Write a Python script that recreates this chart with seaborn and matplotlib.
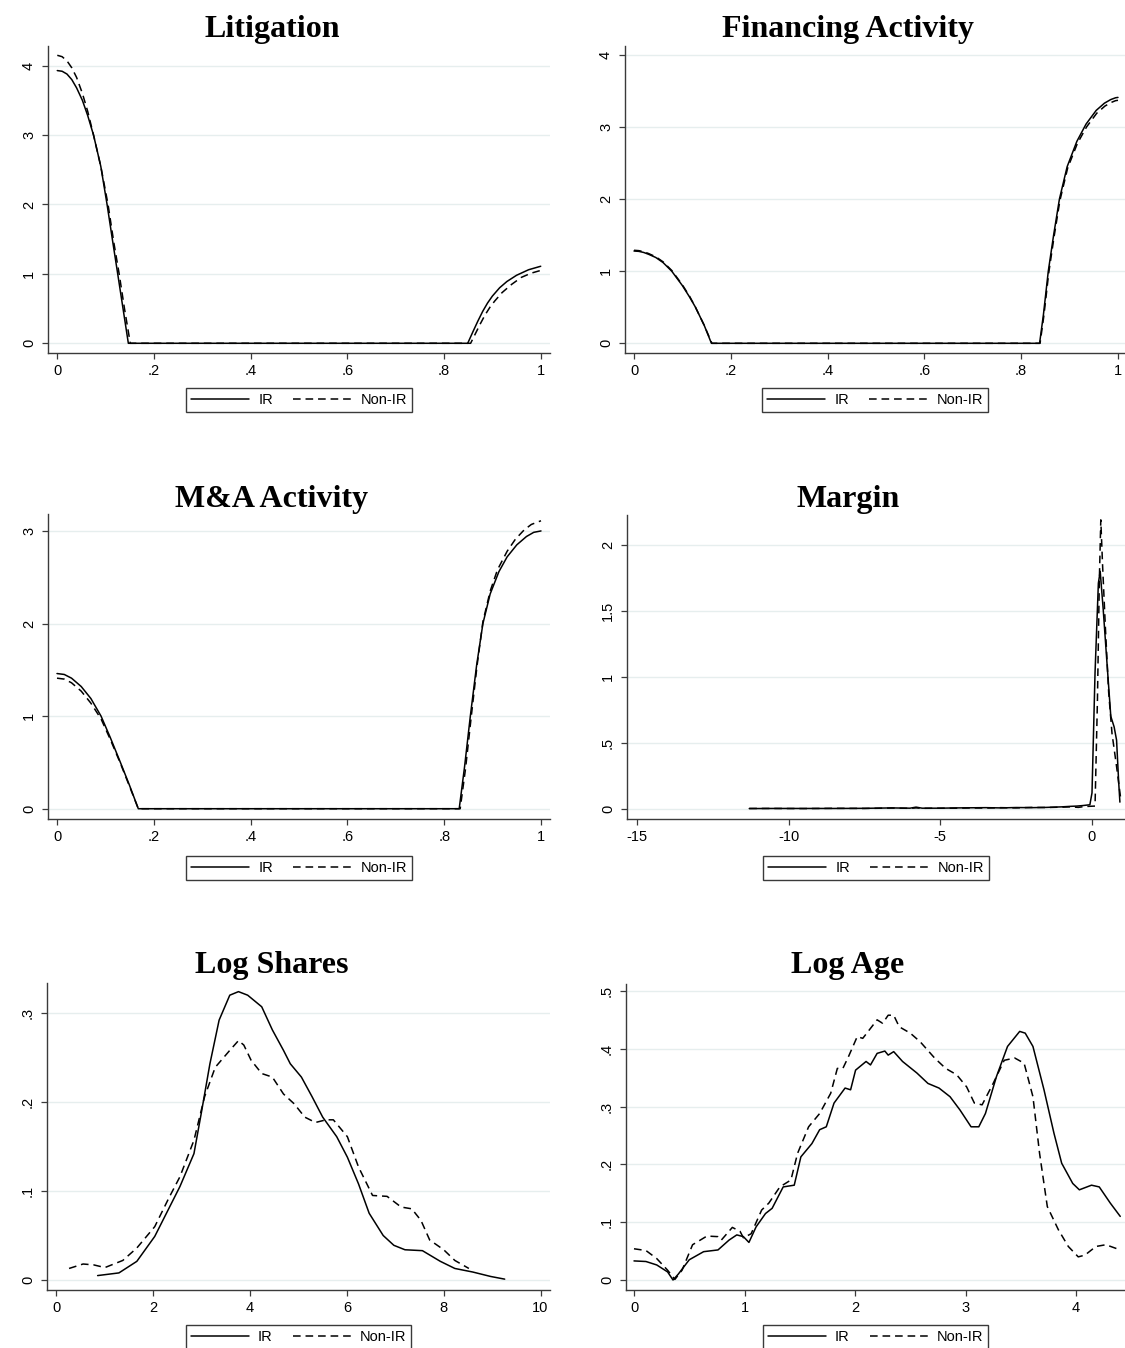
import matplotlib
matplotlib.use("Agg")
import matplotlib.pyplot as plt
import seaborn as sns
from matplotlib.lines import Line2D

sns.set_theme(style="white")
plt.rcParams['font.family'] = ['Liberation Sans', 'DejaVu Sans']
plt.rcParams['text.color'] = 'black'

# ---------------- data ----------------
titles = ["Litigation", "Financing Activity", "M&A Activity", "Margin", "Log Shares", "Log Age"]
series_labels = ["IR", "Non-IR"]

lit_ir_x = [0.0, 0.01, 0.02, 0.03, 0.04, 0.052, 0.063, 0.075, 0.09, 0.103, 0.115, 0.125, 0.136, 0.147,
            0.30, 0.50, 0.70, 0.849, 0.86, 0.87, 0.88, 0.89, 0.90, 0.915, 0.93, 0.95, 0.975, 1.0]
lit_ir_y = [3.93, 3.92, 3.88, 3.80, 3.68, 3.50, 3.28, 3.00, 2.55, 2.00, 1.45, 1.00, 0.50, 0.0,
            0.0, 0.0, 0.0, 0.0, 0.17, 0.32, 0.46, 0.58, 0.68, 0.80, 0.89, 0.98, 1.06, 1.11]
lit_non_x = [0.0, 0.01, 0.02, 0.03, 0.04, 0.052, 0.063, 0.075, 0.09, 0.105, 0.117, 0.128, 0.139, 0.151,
             0.30, 0.50, 0.70, 0.855, 0.865, 0.875, 0.885, 0.895, 0.905, 0.92, 0.94, 0.96, 0.98, 1.0]
lit_non_y = [4.15, 4.13, 4.07, 3.97, 3.83, 3.60, 3.34, 3.00, 2.55, 2.00, 1.45, 1.00, 0.50, 0.0,
             0.0, 0.0, 0.0, 0.0, 0.14, 0.28, 0.41, 0.52, 0.61, 0.73, 0.85, 0.95, 1.01, 1.05]

fin_ir_x = [0.0, 0.01, 0.02, 0.03, 0.045, 0.06, 0.078, 0.10, 0.115, 0.127, 0.145, 0.16, 0.40, 0.60, 0.838,
            0.846, 0.856, 0.867, 0.879, 0.895, 0.915, 0.934, 0.955, 0.972, 0.985, 0.995, 1.0]
fin_ir_y = [1.28, 1.275, 1.26, 1.235, 1.19, 1.12, 1.00, 0.80, 0.64, 0.50, 0.25, 0.0, 0.0, 0.0, 0.0,
            0.40, 1.00, 1.50, 2.00, 2.45, 2.80, 3.04, 3.23, 3.33, 3.38, 3.405, 3.41]
fin_non_x = [0.0, 0.01, 0.02, 0.03, 0.045, 0.06, 0.078, 0.10, 0.115, 0.127, 0.145, 0.161, 0.40, 0.60, 0.839,
             0.847, 0.857, 0.868, 0.880, 0.896, 0.916, 0.935, 0.956, 0.973, 0.986, 0.995, 1.0]
fin_non_y = [1.29, 1.285, 1.27, 1.245, 1.20, 1.13, 1.01, 0.81, 0.65, 0.50, 0.25, 0.0, 0.0, 0.0, 0.0,
             0.39, 0.98, 1.48, 1.98, 2.43, 2.77, 3.00, 3.19, 3.29, 3.34, 3.365, 3.37]

ma_ir_x = [0.0, 0.015, 0.03, 0.05, 0.07, 0.091, 0.11, 0.131, 0.15, 0.168, 0.40, 0.60, 0.831,
           0.842, 0.854, 0.867, 0.88, 0.895, 0.913, 0.93, 0.95, 0.97, 0.985, 1.0]
ma_ir_y = [1.46, 1.45, 1.41, 1.32, 1.19, 1.00, 0.77, 0.50, 0.25, 0.0, 0.0, 0.0, 0.0,
           0.45, 1.00, 1.55, 2.00, 2.32, 2.56, 2.72, 2.85, 2.94, 2.985, 3.00]
ma_non_x = [0.0, 0.015, 0.03, 0.05, 0.07, 0.091, 0.11, 0.131, 0.15, 0.168, 0.40, 0.60, 0.833,
            0.844, 0.856, 0.868, 0.88, 0.895, 0.91, 0.93, 0.947, 0.965, 0.98, 1.0]
ma_non_y = [1.41, 1.40, 1.36, 1.27, 1.14, 0.97, 0.75, 0.49, 0.24, 0.0, 0.0, 0.0, 0.0,
            0.43, 1.00, 1.55, 2.02, 2.35, 2.58, 2.78, 2.91, 3.01, 3.07, 3.11]

mar_ir_x = [-11.3, -10.5, -9.5, -8.5, -7.5, -6.6, -6.0, -5.8, -5.6, -5.0, -4.5, -4.0, -3.5, -3.0,
            -2.5, -2.0, -1.5, -1.0, -0.7, -0.5, -0.3, -0.07, 0.0, 0.1, 0.21, 0.27, 0.37, 0.48,
            0.62, 0.73, 0.81, 0.88, 0.92]
mar_ir_y = [0.001, 0.002, 0.002, 0.002, 0.003, 0.006, 0.004, 0.012, 0.004, 0.004, 0.006, 0.007, 0.008, 0.006,
            0.009, 0.008, 0.010, 0.014, 0.018, 0.020, 0.024, 0.030, 0.12, 1.03, 1.71, 1.80, 1.51, 1.15,
            0.70, 0.62, 0.52, 0.20, 0.05]
mar_non_x = [-11.3, -10.5, -9.5, -8.5, -7.5, -6.6, -6.0, -5.8, -5.6, -5.0, -4.5, -4.0, -3.5, -3.0,
             -2.5, -2.0, -1.5, -1.0, -0.7, -0.45, -0.3, -0.1, 0.1, 0.18, 0.24, 0.29, 0.35, 0.44,
             0.55, 0.66, 0.81, 0.95]
mar_non_y = [0.002, 0.002, 0.001, 0.003, 0.002, 0.005, 0.003, 0.006, 0.003, 0.004, 0.004, 0.006, 0.005, 0.008,
             0.006, 0.010, 0.009, 0.012, 0.014, 0.010, 0.015, 0.018, 0.02, 0.83, 1.71, 2.19, 1.84, 1.38,
             0.88, 0.57, 0.32, 0.07]

ls_ir_x = [0.85, 1.29, 1.66, 2.03, 2.55, 2.84, 2.99, 3.17, 3.36, 3.58, 3.76, 3.95, 4.24, 4.46, 4.69,
           4.83, 5.06, 5.28, 5.50, 5.79, 6.01, 6.24, 6.46, 6.75, 6.97, 7.20, 7.56, 7.93, 8.23, 8.60,
           8.97, 9.26]
ls_ir_y = [0.005, 0.008, 0.021, 0.049, 0.105, 0.142, 0.187, 0.243, 0.292, 0.320, 0.324, 0.320, 0.307,
           0.281, 0.258, 0.243, 0.228, 0.206, 0.183, 0.161, 0.138, 0.108, 0.075, 0.050, 0.039, 0.034,
           0.033, 0.021, 0.013, 0.009, 0.004, 0.001]
ls_non_x = [0.26, 0.55, 0.77, 1.00, 1.37, 1.66, 2.03, 2.32, 2.55, 2.84, 3.06, 3.28, 3.58, 3.76, 3.87,
            4.02, 4.24, 4.46, 4.69, 4.91, 5.13, 5.35, 5.57, 5.72, 6.01, 6.24, 6.53, 6.83, 7.12, 7.34,
            7.53, 7.71, 8.00, 8.23, 8.52]
ls_non_y = [0.013, 0.018, 0.017, 0.014, 0.022, 0.036, 0.060, 0.092, 0.116, 0.157, 0.206, 0.239, 0.258,
            0.269, 0.264, 0.247, 0.232, 0.228, 0.209, 0.198, 0.183, 0.177, 0.180, 0.180, 0.161, 0.127,
            0.095, 0.094, 0.082, 0.080, 0.067, 0.045, 0.034, 0.022, 0.013]

la_ir_x = [0.0, 0.108, 0.206, 0.304, 0.353, 0.40, 0.50, 0.63, 0.76, 0.86, 0.93, 0.99, 1.04, 1.105,
           1.19, 1.25, 1.35, 1.45, 1.51, 1.61, 1.68, 1.74, 1.81, 1.91, 1.96, 2.005, 2.10, 2.14, 2.20,
           2.27, 2.30, 2.35, 2.43, 2.56, 2.66, 2.76, 2.86, 2.95, 3.05, 3.12, 3.18, 3.28, 3.38, 3.49,
           3.54, 3.61, 3.71, 3.80, 3.87, 3.97, 4.03, 4.14, 4.21, 4.31, 4.40]
la_ir_y = [0.033, 0.032, 0.026, 0.014, 0.0, 0.010, 0.035, 0.049, 0.052, 0.069, 0.078, 0.075, 0.065, 0.092,
           0.115, 0.124, 0.161, 0.164, 0.213, 0.236, 0.260, 0.265, 0.306, 0.332, 0.329, 0.363, 0.378,
           0.372, 0.392, 0.396, 0.389, 0.395, 0.378, 0.358, 0.340, 0.332, 0.317, 0.294, 0.265, 0.265,
           0.288, 0.352, 0.404, 0.430, 0.427, 0.404, 0.329, 0.254, 0.202, 0.167, 0.156, 0.164, 0.161,
           0.133, 0.110]
la_non_x = [0.0, 0.108, 0.206, 0.304, 0.37, 0.435, 0.53, 0.66, 0.76, 0.79, 0.89, 0.96, 0.99, 1.06,
            1.155, 1.22, 1.32, 1.42, 1.48, 1.58, 1.68, 1.78, 1.84, 1.89, 1.94, 2.02, 2.07, 2.20, 2.25,
            2.30, 2.35, 2.40, 2.50, 2.59, 2.72, 2.82, 2.92, 3.01, 3.08, 3.15, 3.25, 3.35, 3.445, 3.53,
            3.61, 3.67, 3.74, 3.84, 3.93, 4.02, 4.08, 4.18, 4.27, 4.40]
la_non_y = [0.054, 0.051, 0.037, 0.017, 0.001, 0.017, 0.061, 0.076, 0.075, 0.069, 0.091, 0.084, 0.073,
            0.080, 0.121, 0.133, 0.161, 0.173, 0.219, 0.265, 0.288, 0.323, 0.366, 0.366, 0.386, 0.421,
            0.418, 0.450, 0.444, 0.458, 0.458, 0.438, 0.427, 0.412, 0.384, 0.366, 0.355, 0.334, 0.306,
            0.303, 0.340, 0.380, 0.384, 0.375, 0.317, 0.219, 0.127, 0.087, 0.058, 0.040, 0.043, 0.058,
            0.061, 0.052]

unit_ticks = [0, 0.2, 0.4, 0.6, 0.8, 1]
unit_ticklabels = ["0", ".2", ".4", ".6", ".8", "1"]
lit_yticks = [0, 1, 2, 3, 4]
lit_yticklabels = ["0", "1", "2", "3", "4"]
fin_yticks = [0, 1, 2, 3, 4]
fin_yticklabels = ["0", "1", "2", "3", "4"]
ma_yticks = [0, 1, 2, 3]
ma_yticklabels = ["0", "1", "2", "3"]
mar_xticks = [-15, -10, -5, 0]
mar_xticklabels = ["-15", "-10", "-5", "0"]
mar_yticks = [0, 0.5, 1, 1.5, 2]
mar_yticklabels = ["0", ".5", "1", "1.5", "2"]
ls_xticks = [0, 2, 4, 6, 8, 10]
ls_xticklabels = ["0", "2", "4", "6", "8", "10"]
ls_yticks = [0, 0.1, 0.2, 0.3]
ls_yticklabels = ["0", ".1", ".2", ".3"]
la_xticks = [0, 1, 2, 3, 4]
la_xticklabels = ["0", "1", "2", "3", "4"]
la_yticks = [0, 0.1, 0.2, 0.3, 0.4, 0.5]
la_yticklabels = ["0", ".1", ".2", ".3", ".4", ".5"]

# ---------------- layout (pixels) ----------------
W, H = 1125, 1348
fig = plt.figure(figsize=(W / 100, H / 100), dpi=100)

panels = [
    dict(title=titles[0], ir=(lit_ir_x, lit_ir_y), non=(lit_non_x, lit_non_y),
         box=(48, 550, 46, 353), xlim=(-0.0192, 1.0192), ylim=(-0.140, 4.284),
         xt=(unit_ticks, unit_ticklabels), yt=(lit_yticks, lit_yticklabels), tcx=272, tby=37, leg=388),
    dict(title=titles[1], ir=(fin_ir_x, fin_ir_y), non=(fin_non_x, fin_non_y),
         box=(625, 1125, 46, 353), xlim=(-0.0186, 1.0145), ylim=(-0.1345, 4.123),
         xt=(unit_ticks, unit_ticklabels), yt=(fin_yticks, fin_yticklabels), tcx=848, tby=37, leg=388),
    dict(title=titles[2], ir=(ma_ir_x, ma_ir_y), non=(ma_non_x, ma_non_y),
         box=(48, 550, 514, 819), xlim=(-0.0186, 1.0186), ylim=(-0.111, 3.183),
         xt=(unit_ticks, unit_ticklabels), yt=(ma_yticks, ma_yticklabels), tcx=272, tby=507, leg=856),
    dict(title=titles[3], ir=(mar_ir_x, mar_ir_y), non=(mar_non_x, mar_non_y),
         box=(627, 1125, 515, 819), xlim=(-15.33, 1.088), ylim=(-0.078, 2.227),
         xt=(mar_xticks, mar_xticklabels), yt=(mar_yticks, mar_yticklabels), tcx=848, tby=507, leg=856),
    dict(title=titles[4], ir=(ls_ir_x, ls_ir_y), non=(ls_non_x, ls_non_y),
         box=(47, 550, 983, 1290), xlim=(-0.196, 10.196), ylim=(-0.0112, 0.3337),
         xt=(ls_xticks, ls_xticklabels), yt=(ls_yticks, ls_yticklabels), tcx=272, tby=973, leg=1325),
    dict(title=titles[5], ir=(la_ir_x, la_ir_y), non=(la_non_x, la_non_y),
         box=(626, 1125, 984, 1290), xlim=(-0.0724, 4.443), ylim=(-0.0173, 0.512),
         xt=(la_xticks, la_xticklabels), yt=(la_yticks, la_yticklabels), tcx=848, tby=973, leg=1325),
]

AX_COLOR = "#3a3a3a"
GRID_COLOR = "#e6eeee"
DASH = (0, (5, 3.2))
LW = 1.1

for p in panels:
    l, r, t, b = p["box"]
    ax = fig.add_axes([l / W, 1 - b / H, (r - l) / W, (b - t) / H])
    ax.set_facecolor("white")
    sns.lineplot(x=p["ir"][0], y=p["ir"][1], ax=ax, color="black", linewidth=LW,
                 estimator=None, sort=False)
    sns.lineplot(x=p["non"][0], y=p["non"][1], ax=ax, color="black", linewidth=LW,
                 linestyle=DASH, estimator=None, sort=False)
    ax.set_xlim(*p["xlim"])
    ax.set_ylim(*p["ylim"])
    ax.set_xticks(p["xt"][0])
    ax.set_xticklabels(p["xt"][1])
    ax.set_yticks(p["yt"][0])
    ax.set_yticklabels(p["yt"][1], rotation=90, va="center")
    ax.set_xlabel("")
    ax.set_ylabel("")
    ax.yaxis.grid(True, color=GRID_COLOR, linewidth=1.0)
    ax.xaxis.grid(False)
    ax.set_axisbelow(True)
    for side in ("top", "right"):
        ax.spines[side].set_visible(False)
    for side in ("left", "bottom"):
        ax.spines[side].set_color(AX_COLOR)
        ax.spines[side].set_linewidth(1.0)
    ax.tick_params(axis="both", which="major", bottom=True, left=True, direction="out",
                   length=4.6, width=0.9, color=AX_COLOR, labelsize=10.5, labelcolor="black")
    ax.tick_params(axis="x", pad=3.2)
    ax.tick_params(axis="y", pad=4)

    fig.text(p["tcx"] / W, 1 - p["tby"] / H, p["title"], ha="center", va="baseline",
             fontsize=23, fontweight="bold", color="black",
             family=["Liberation Serif", "DejaVu Serif"])

    handles = [Line2D([], [], color="black", linewidth=LW),
               Line2D([], [], color="black", linewidth=LW, linestyle=DASH)]
    leg = fig.legend(handles, series_labels, loc="upper center",
                     bbox_to_anchor=(((l + r) / 2) / W, 1 - p["leg"] / H),
                     ncol=2, frameon=True, fancybox=False, shadow=False, framealpha=1,
                     edgecolor=AX_COLOR, fontsize=10.5, handlelength=4.0, handletextpad=0.6,
                     columnspacing=1.4, borderpad=0.34, borderaxespad=0)
    leg.get_frame().set_linewidth(1.0)
    for txt in leg.get_texts():
        txt.set_color("black")

fig.savefig("out.png", dpi=100, facecolor="white")
